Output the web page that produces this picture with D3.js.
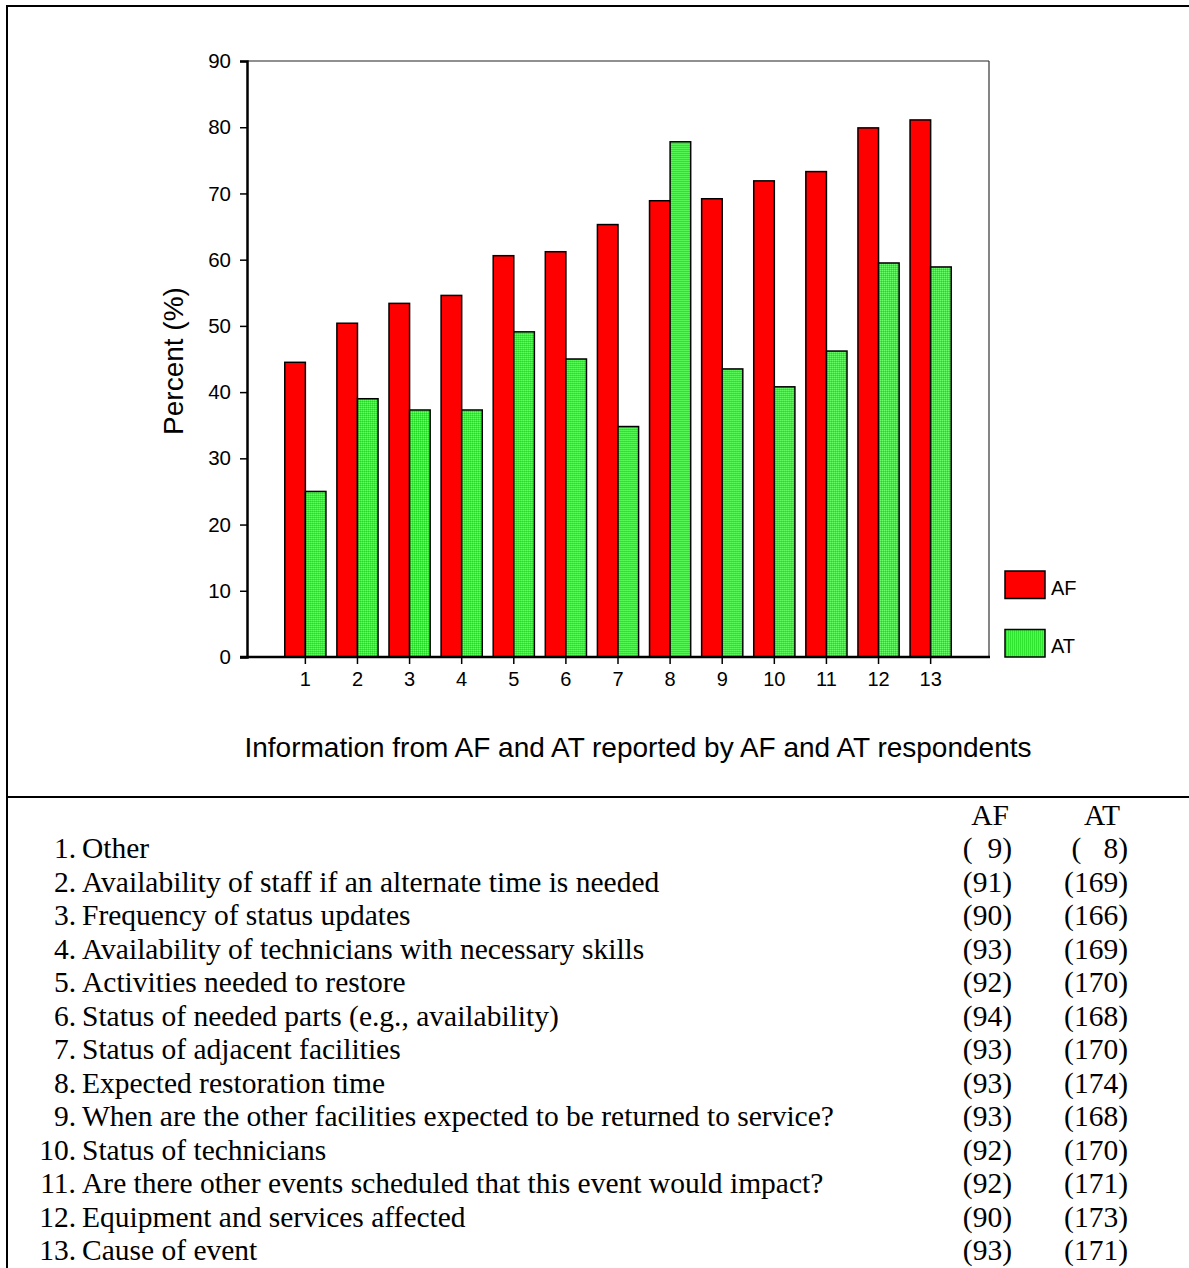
<!DOCTYPE html>
<html>
<head>
<meta charset="utf-8">
<script src="https://cdn.jsdelivr.net/npm/d3@7"></script>
<style>
  body { margin: 0; background: #fff; }
  svg { display: block; }
</style>
</head>
<body>
<div id="chart"></div>
<script>
const categories = ["1", "2", "3", "4", "5", "6", "7", "8", "9", "10", "11", "12", "13"];
const seriesNames = ["AF", "AT"];
const afValues = [44.5, 50.4, 53.4, 54.6, 60.6, 61.2, 65.3, 68.9, 69.2, 71.9, 73.3, 79.9, 81.1];
const atValues = [25.0, 39.0, 37.3, 37.3, 49.1, 45.0, 34.8, 77.8, 43.5, 40.8, 46.2, 59.5, 58.9];
const yTicks = [0, 10, 20, 30, 40, 50, 60, 70, 80, 90];
const itemLabels = [
  "Other",
  "Availability of staff if an alternate time is needed",
  "Frequency of status updates",
  "Availability of technicians with necessary skills",
  "Activities needed to restore",
  "Status of needed parts (e.g., availability)",
  "Status of adjacent facilities",
  "Expected restoration time",
  "When are the other facilities expected to be returned to service?",
  "Status of technicians",
  "Are there other events scheduled that this event would impact?",
  "Equipment and services affected",
  "Cause of event"
];
const afCounts = ["(  9)", "(91)", "(90)", "(93)", "(92)", "(94)", "(93)", "(93)", "(93)", "(92)", "(92)", "(90)", "(93)"];
const atCounts = ["(   8)", "(169)", "(166)", "(169)", "(170)", "(168)", "(170)", "(174)", "(168)", "(170)", "(171)", "(173)", "(171)"];

const width = 1189, height = 1268;
const sans = "Liberation Sans, Arial, sans-serif";
const serif = "Liberation Serif, Times New Roman, serif";

const svg = d3.select("#chart").append("svg")
  .attr("width", width)
  .attr("height", height);

// green dotted fill
const defs = svg.append("defs");
const pat = defs.append("pattern")
  .attr("id", "green-dots")
  .attr("patternUnits", "userSpaceOnUse")
  .attr("width", 2).attr("height", 2);
pat.append("rect").attr("width", 2).attr("height", 2).attr("fill", "#3ded3d");
pat.append("rect").attr("width", 1).attr("height", 1).attr("fill", "#6cff6c");
pat.append("rect").attr("x", 1).attr("y", 1).attr("width", 1).attr("height", 1).attr("fill", "#22d822");

const colors = { AF: "#ff0000", AT: "url(#green-dots)" };

// outer frame
svg.append("line").attr("x1", 7).attr("x2", width).attr("y1", 6).attr("y2", 6)
  .attr("stroke", "#000").attr("stroke-width", 2);
svg.append("line").attr("x1", 7).attr("x2", 7).attr("y1", 5).attr("y2", height)
  .attr("stroke", "#000").attr("stroke-width", 2);
svg.append("line").attr("x1", 7).attr("x2", width).attr("y1", 797).attr("y2", 797)
  .attr("stroke", "#000").attr("stroke-width", 2);

// --- Scales ---
const plot = { left: 247, right: 989, top: 61, bottom: 657 };

const x = d3.scaleBand()
  .domain(categories)
  .range([plot.left, plot.right])
  .paddingInner(0.21)
  .paddingOuter(0.725);

const xSub = d3.scaleBand()
  .domain(seriesNames)
  .range([0, x.bandwidth()]);

const y = d3.scaleLinear()
  .domain([0, 90])
  .range([plot.bottom, plot.top]);

// frame top/right
svg.append("line").attr("x1", plot.left).attr("x2", plot.right).attr("y1", plot.top).attr("y2", plot.top)
  .attr("stroke", "#222").attr("stroke-width", 1.2);
svg.append("line").attr("x1", plot.right).attr("x2", plot.right).attr("y1", plot.top).attr("y2", plot.bottom)
  .attr("stroke", "#333").attr("stroke-width", 1.2);

// --- Bars ---
const rows = categories.map((c, i) => ({ cat: c, AF: afValues[i], AT: atValues[i] }));

const groups = svg.append("g").selectAll("g")
  .data(rows)
  .enter().append("g")
  .attr("transform", d => `translate(${x(d.cat)},0)`);

groups.selectAll("rect")
  .data(d => seriesNames.map(s => ({ key: s, value: d[s] })))
  .enter().append("rect")
  .attr("x", d => xSub(d.key))
  .attr("y", d => y(d.value))
  .attr("width", xSub.bandwidth())
  .attr("height", d => y(0) - y(d.value))
  .attr("fill", d => colors[d.key])
  .attr("stroke", "#000")
  .attr("stroke-width", 1.5);

// --- Axes ---
const yAxis = svg.append("g")
  .attr("transform", `translate(${plot.left},0)`)
  .call(d3.axisLeft(y).tickValues(yTicks).tickSize(7).tickPadding(9));
yAxis.attr("font-size", null).attr("font-family", null);
yAxis.select(".domain").attr("stroke-width", 2.5);
yAxis.selectAll(".tick line").attr("stroke-width", 1.5);
yAxis.selectAll("text")
  .attr("fill", "#000")
  .style("font-family", sans)
  .style("font-size", "20.5px");

const xAxis = svg.append("g")
  .attr("transform", `translate(0,${plot.bottom})`)
  .call(d3.axisBottom(x).tickSize(7).tickPadding(8));
xAxis.attr("font-size", null).attr("font-family", null);
xAxis.select(".domain").remove();
xAxis.selectAll(".tick line").attr("stroke-width", 1.5);
xAxis.selectAll("text")
  .attr("fill", "#000")
  .style("font-family", sans)
  .style("font-size", "20px");
svg.append("line").attr("x1", plot.left - 7).attr("x2", plot.right + 1)
  .attr("y1", plot.bottom).attr("y2", plot.bottom)
  .attr("stroke", "#000").attr("stroke-width", 2.5);

// --- Axis titles ---
svg.append("text")
  .attr("transform", `translate(183,${(plot.top + plot.bottom) / 2 + 2}) rotate(-90)`)
  .attr("text-anchor", "middle")
  .style("font-family", sans)
  .style("font-size", "28px")
  .text("Percent (%)");

svg.append("text")
  .attr("x", 638)
  .attr("y", 757)
  .attr("text-anchor", "middle")
  .style("font-family", sans)
  .style("font-size", "28px")
  .text("Information from AF and AT reported by AF and AT respondents");

// --- Legend ---
const legend = svg.append("g").selectAll("g")
  .data(seriesNames)
  .enter().append("g")
  .attr("transform", (d, i) => `translate(1005,${571 + i * 58.5})`);
legend.append("rect")
  .attr("width", 40).attr("height", 27.5)
  .attr("fill", d => colors[d])
  .attr("stroke", "#000").attr("stroke-width", 1.5);
legend.append("text")
  .attr("x", 46).attr("y", 23.5)
  .style("font-family", sans)
  .style("font-size", "20px")
  .text(d => d);

// --- Key table ---
const table = svg.append("g").style("font-family", serif).style("font-size", "29.5px");
table.append("text").attr("x", 990).attr("y", 825).attr("text-anchor", "middle").text("AF");
table.append("text").attr("x", 1102).attr("y", 825).attr("text-anchor", "middle").text("AT");

const lines = table.selectAll("g.row")
  .data(itemLabels)
  .enter().append("g")
  .attr("class", "row")
  .attr("transform", (d, i) => `translate(0,${858 + i * 33.5})`);
lines.append("text").attr("x", 76).attr("text-anchor", "end").text((d, i) => categories[i] + ".");
lines.append("text").attr("x", 82).text(d => d);
lines.append("text").attr("x", 1012).attr("text-anchor", "end")
  .style("white-space", "pre").text((d, i) => afCounts[i]);
lines.append("text").attr("x", 1128).attr("text-anchor", "end")
  .style("white-space", "pre").text((d, i) => atCounts[i]);
</script>
</body>
</html>
